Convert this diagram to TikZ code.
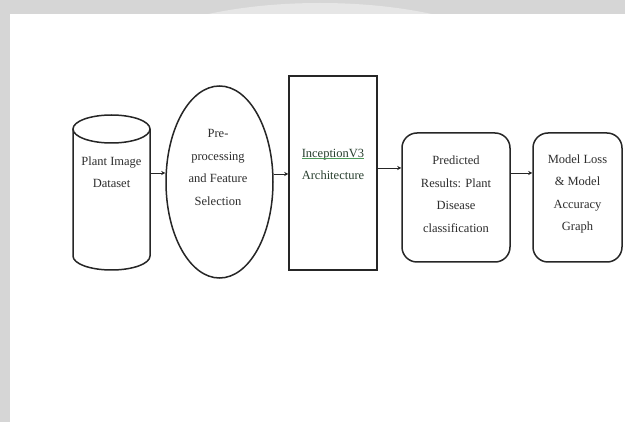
\documentclass[tikz,border=0pt]{standalone}
\usepackage{fontspec}
\setmainfont{Liberation Serif}
\usetikzlibrary{arrows.meta,shapes.geometric}
\definecolor{bandgray}{HTML}{D6D6D6}
\definecolor{bandlight}{HTML}{E6E6E6}
\definecolor{ink}{HTML}{262626}
\definecolor{txt}{HTML}{2E2E2E}
\definecolor{inctxt}{HTML}{2A4030}
\definecolor{incline}{HTML}{4E9A5A}
\tikzset{
  shapeline/.style={draw=ink, line width=1.5pt},
  conn/.style={draw=ink, line width=0.9pt, -{Stealth[length=4pt,width=4pt]}},
  lbl/.style={align=center, text=txt, font=\fontsize{12.5}{22.5}\selectfont, inner sep=0pt},
  roundbox/.style={shapeline, rounded corners=15pt, minimum width=108pt, minimum height=129pt, inner sep=0pt},
}
\begin{document}
\begin{tikzpicture}[x=1pt,y=-1pt]
\useasboundingbox (0,0) rectangle (625,422);
% background frame
\fill[bandgray] (0,0) rectangle (625,422);
\begin{scope}
  \clip (0,0) rectangle (625,14);
  \fill[bandlight] (320,75) ellipse [x radius=210, y radius=72];
\end{scope}
\fill[white] (10,14) rectangle (625,422);

% cylinder
\node[minimum width=77pt, minimum height=155pt, inner sep=0pt] (cyl) at (111.5,192.5) {};
\draw[shapeline, fill=white] (73,129) -- (73,256) arc[start angle=180, end angle=0, x radius=38.5, y radius=14] -- (150,129);
\draw[shapeline] (111.5,129) ellipse [x radius=38.5, y radius=14];
\node[lbl] (cyltxt) at (111.5,172) {Plant Image\\Dataset};

% ellipse
\node[ellipse, shapeline, minimum width=107pt, minimum height=192pt, inner sep=0pt] (ell) at (219.5,182) {};
\node[lbl] (elltxt) at (218,167.5) {Pre-\\processing\\and Feature\\Selection};

% rectangle
\node[shapeline, minimum width=88pt, minimum height=194pt, inner sep=0pt] (inc) at (333,173) {};
\node[lbl, text=inctxt] (inctxt) at (333,164.5) {InceptionV3\\Architecture};
\draw[incline, line width=0.8pt] (302,158) -- (364,158);

% rounded boxes
\node[roundbox] (pred) at (456,197.5) {};
\node[lbl] (predtxt) at (456,194) {Predicted\\Results: Plant\\Disease\\classification};
\node[roundbox, minimum width=89pt] (graph) at (577.5,197.5) {};
\node[lbl] (graphtxt) at (577.5,194) {Model Loss\\\& Model\\Accuracy\\Graph};

% connectors
\coordinate (ya) at (0,173);
\coordinate (yb) at (0,174);
\coordinate (yc) at (0,168);
\draw[conn] (cyl.east |- ya) -- (ell.west |- ya);
\draw[conn] (ell.east |- yb) -- (inc.west |- yb);
\draw[conn] (inc.east |- yc) -- (pred.west |- yc);
\draw[conn] (pred.east |- ya) -- (graph.west |- ya);
\end{tikzpicture}
\end{document}
